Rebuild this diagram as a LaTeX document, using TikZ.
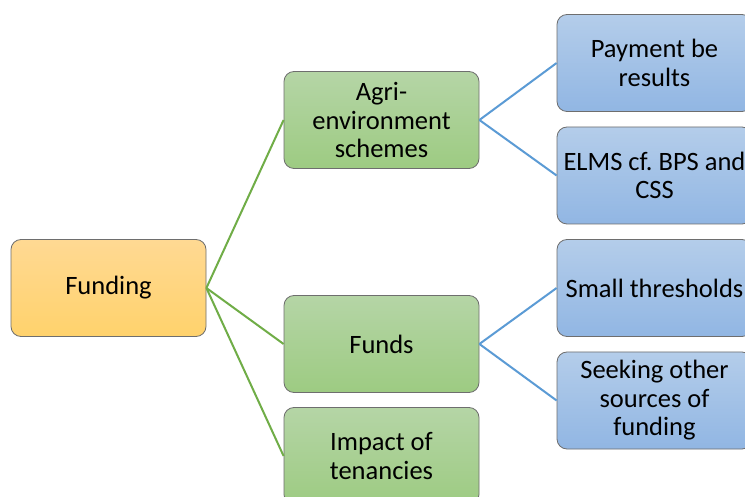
\documentclass[tikz,border=0pt]{standalone}
\usepackage{fontspec}
\setmainfont{Carlito}
\definecolor{boxline}{HTML}{6E6E6E}
\definecolor{goldtop}{HTML}{FFD993}
\definecolor{goldbot}{HTML}{FFD26C}
\definecolor{greentop}{HTML}{B5D5A6}
\definecolor{greenbot}{HTML}{9DCB82}
\definecolor{bluetop}{HTML}{B4CDEA}
\definecolor{bluebot}{HTML}{91B6E3}
\definecolor{greenln}{HTML}{70AD47}
\definecolor{blueln}{HTML}{5B9BD5}
\begin{document}
\begin{tikzpicture}[x=1pt,y=-1pt,
  box/.style={draw=boxline, line width=0.8pt, rounded corners=10pt,
    minimum width=195pt, minimum height=97pt, align=center,
    font=\fontsize{26.5}{28.5}\selectfont, inner sep=0pt, text=black},
  goldbox/.style={box, top color=goldtop, bottom color=goldbot},
  greenbox/.style={box, top color=greentop, bottom color=greenbot},
  bluebox/.style={box, top color=bluetop, bottom color=bluebot},
  gline/.style={draw=greenln, line width=2pt},
  bline/.style={draw=blueln, line width=2pt}]
\clip (0,0) rectangle (745,497);
\fill[white] (0,0) rectangle (745,497);
\node[goldbox] (fund) at (108.5,288) {Funding};
\node[greenbox] (agri) at (381.5,120) {Agri-\\environment\\schemes};
\node[greenbox] (funds) at (381.5,344) {Funds};
\node[greenbox] (imp) at (381.5,456) {Impact of\\tenancies};
\node[bluebox] (pay) at (654.5,63) {Payment be\\results};
\node[bluebox] (elms) at (654.5,175.5) {ELMS cf.\ BPS and\\CSS};
\node[bluebox] (small) at (654.5,288) {Small thresholds};
\node[bluebox] (seek) at (654.5,400.5) {Seeking other\\sources of\\funding};
\draw[gline] (fund.east) -- (agri.west);
\draw[gline] (fund.east) -- (funds.west);
\draw[gline] (fund.east) -- (imp.west);
\draw[bline] (agri.east) -- (pay.west);
\draw[bline] (agri.east) -- (elms.west);
\draw[bline] (funds.east) -- (small.west);
\draw[bline] (funds.east) -- (seek.west);
\end{tikzpicture}
\end{document}
